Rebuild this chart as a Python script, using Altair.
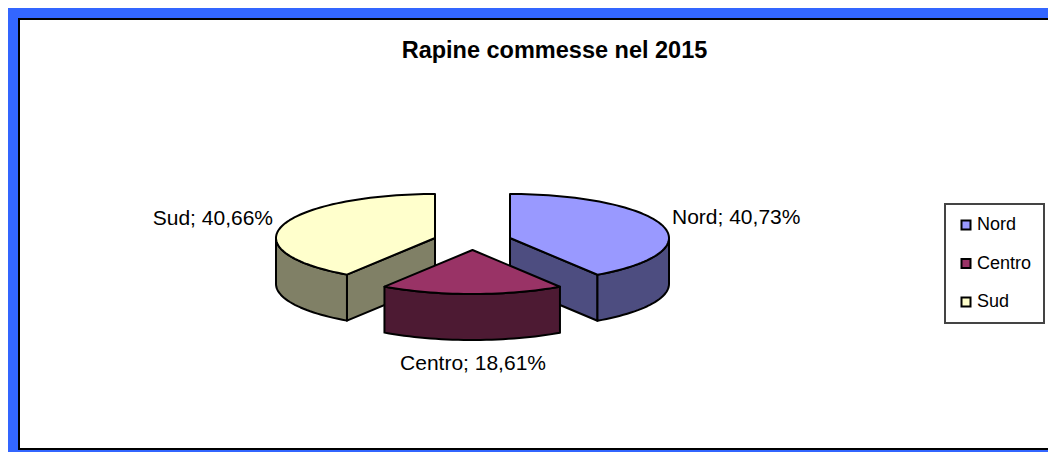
import math
import altair as alt
import pandas as pd

categories = ["Nord", "Centro", "Sud"]
percent = [40.73, 18.61, 40.66]
labels = ["Nord; 40,73%", "Centro; 18,61%", "Sud; 40,66%"]
top_colors = ["#9999FF", "#993366", "#FFFFCC"]
side_colors = ["#4D4D80", "#4D1A33", "#808066"]
apex_x = [510, 472.5, 435]
apex_y = [238, 250, 238]
label_x = [672, 546, 273]
label_y = [224, 370, 225]
label_align = ["left", "right", "right"]
title_text = "Rapine commesse nel 2015"

RX, RY, DEPTH = 159.0, 44.0, 46.0
FONT = "Liberation Sans"


def pt(cx, cy, deg, drop=0.0):
    r = math.radians(deg)
    return (cx + RX * math.sin(r), cy - RY * math.cos(r) + drop)


def arc(cx, cy, a0, a1, drop=0.0):
    n = max(2, int(abs(a1 - a0) / 2))
    return [pt(cx, cy, a0 + (a1 - a0) * k / n, drop) for k in range(n + 1)]


def rows(points, name, cat):
    return [{"x": x, "y": y, "i": i, "part": name, "cat": cat} for i, (x, y) in enumerate(points)]


spans = []
start = 0.0
for p in percent:
    spans.append((start, start + p * 3.6))
    start += p * 3.6

layers_data = []
names = categories
for idx in (0, 2, 1):
    cat = names[idx]
    cx, cy = apex_x[idx], apex_y[idx]
    a0, a1 = spans[idx]
    side_cat = cat + " lato"
    parts = []
    if idx == 0:
        e = pt(cx, cy, a1)
        parts.append([(cx, cy), e, (e[0], e[1] + DEPTH), (cx, cy + DEPTH)])
    if idx == 2:
        e = pt(cx, cy, a0)
        parts.append([(cx, cy), e, (e[0], e[1] + DEPTH), (cx, cy + DEPTH)])
    w0, w1 = max(a0, 90), min(a1, 270)
    parts.append(arc(cx, cy, w0, w1) + arc(cx, cy, w1, w0, DEPTH))
    for k, poly in enumerate(parts):
        layers_data.append(rows(poly, f"{cat}-s{k}", side_cat))
    layers_data.append(rows([(cx, cy)] + arc(cx, cy, a0, a1), f"{cat}-top", cat))

domain = categories + [c + " lato" for c in categories]
color_range = top_colors + side_colors
X = alt.X("x:Q", scale=alt.Scale(domain=[8, 1048], range=[0, 1040]), axis=None)
Y = alt.Y("y:Q", scale=alt.Scale(domain=[8, 452], range=[0, 444]), axis=None)

frame = pd.DataFrame({"x": [8, 19], "x2": [1048, 1070], "y": [8, 19], "y2": [452, 449], "k": ["blue", "white"]})
blue = alt.Chart(frame[frame.k == "blue"]).mark_rect(color="#3366FF").encode(x=X, x2="x2:Q", y=Y, y2="y2:Q")
white = alt.Chart(frame[frame.k == "white"]).mark_rect(fill="white", stroke="black", strokeWidth=2).encode(x=X, x2="x2:Q", y=Y, y2="y2:Q")

layers = [blue, white]
for j, d in enumerate(layers_data):
    fill = alt.Fill(
        "cat:N",
        scale=alt.Scale(domain=domain, range=color_range),
        legend=alt.Legend(
            title=None, values=categories, orient="none", legendX=937, legendY=196,
            symbolType="square", symbolSize=81, symbolStrokeColor="black", symbolStrokeWidth=2,
            symbolOpacity=1, labelFont=FONT, labelFontSize=18, labelColor="black",
            fillColor="white", strokeColor="#444444", padding=12, rowPadding=20.5, labelOffset=2,
            labelLimit=100, offset=0,
        ),
    )
    layers.append(
        alt.Chart(pd.DataFrame(d))
        .mark_line(interpolate="linear-closed", stroke="black", strokeWidth=2, strokeJoin="round")
        .encode(x=X, y=Y, fill=fill, order="i:Q", detail="part:N")
    )

text_df = pd.DataFrame({"x": label_x, "y": label_y, "t": labels, "a": label_align})
for a in ("left", "right"):
    layers.append(
        alt.Chart(text_df[text_df.a == a])
        .mark_text(align=a, baseline="alphabetic", font=FONT, fontSize=21, color="black")
        .encode(x=X, y=Y, text="t:N")
    )

chart = (
    alt.layer(*layers)
    .properties(
        width=1040,
        height=444,
        padding=0,
        autosize=alt.AutoSizeParams(type="none"),
        title=alt.TitleParams(title_text, font=FONT, fontSize=23.5, fontWeight="bold", color="black",
                              anchor="middle", frame="group", offset=0, dy=73.5, dx=26.5, baseline="alphabetic"),
    )
    .configure_view(stroke=None)
    .configure_legend(strokeWidth=2)
)
chart.save("out.html", embed_options={"renderer": "svg", "actions": False})
